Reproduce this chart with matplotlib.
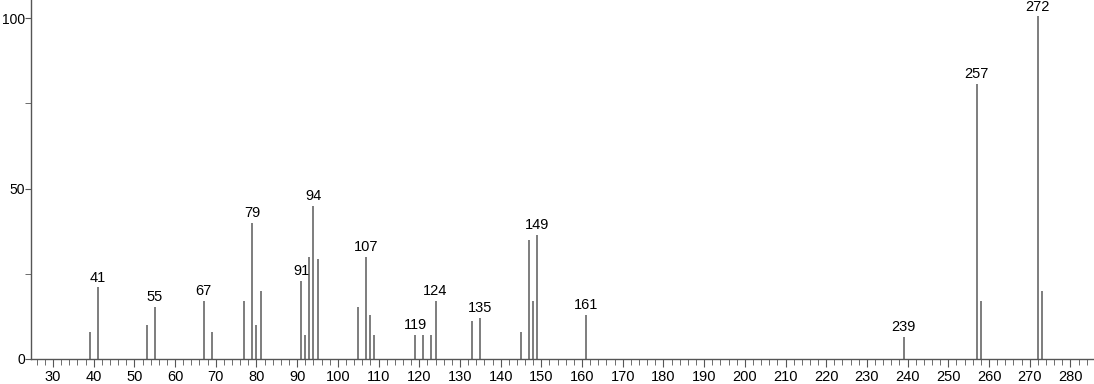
import matplotlib
matplotlib.use("Agg")
import matplotlib.pyplot as plt
from matplotlib.ticker import MultipleLocator

plt.rcParams["font.family"] = ["Liberation Sans", "DejaVu Sans"]

# m/z and relative intensity
mz = [39, 41, 53, 55, 67, 69, 77, 79, 80, 81, 91, 92, 93, 94, 95,
      105, 107, 108, 109, 119, 121, 123, 124, 133, 135, 145, 147, 148, 149,
      161, 239, 257, 258, 272, 273]
intensity = [8, 21, 10, 15.2, 17, 8, 17, 40, 10, 20, 23, 7, 30, 45, 29.3,
             15.2, 30, 13, 7, 7, 7, 7, 17, 11, 12, 8, 35, 17, 36.3,
             13, 6.5, 80.7, 17, 100.5, 20]
labeled = [41, 55, 67, 79, 91, 94, 107, 119, 124, 135, 149, 161, 239, 257, 272]

fig = plt.figure(figsize=(10.94, 3.84), dpi=100)
ax = fig.add_axes([31 / 1094, 25 / 384, 1063 / 1094, 359 / 384])

ax.vlines(mz, 0, intensity, color="#5a5a5a", linewidth=1.1)
for m, h in zip(mz, intensity):
    if m in labeled:
        ax.annotate(str(m), (m, h), xytext=(0, 2), textcoords="offset points",
                    ha="center", va="bottom", fontsize=10.5)

ax.set_xlim(24.6, 285.8)
ax.set_ylim(0, 105.3)

ax.xaxis.set_major_locator(MultipleLocator(10))
ax.xaxis.set_minor_locator(MultipleLocator(2))
ax.yaxis.set_major_locator(MultipleLocator(50))
ax.yaxis.set_minor_locator(MultipleLocator(25))
ax.set_xticks(range(30, 290, 10))

for s in ["top", "right"]:
    ax.spines[s].set_visible(False)
for s in ["left", "bottom"]:
    ax.spines[s].set_color("#555555")
    ax.spines[s].set_linewidth(1)

ax.tick_params(which="major", length=6, color="#555555", labelsize=10.5, pad=2)
ax.tick_params(which="minor", length=4, color="#555555")
ax.tick_params(axis="y", which="major", length=4, pad=0.5, labelsize=10)

fig.savefig("out.png", dpi=100)
